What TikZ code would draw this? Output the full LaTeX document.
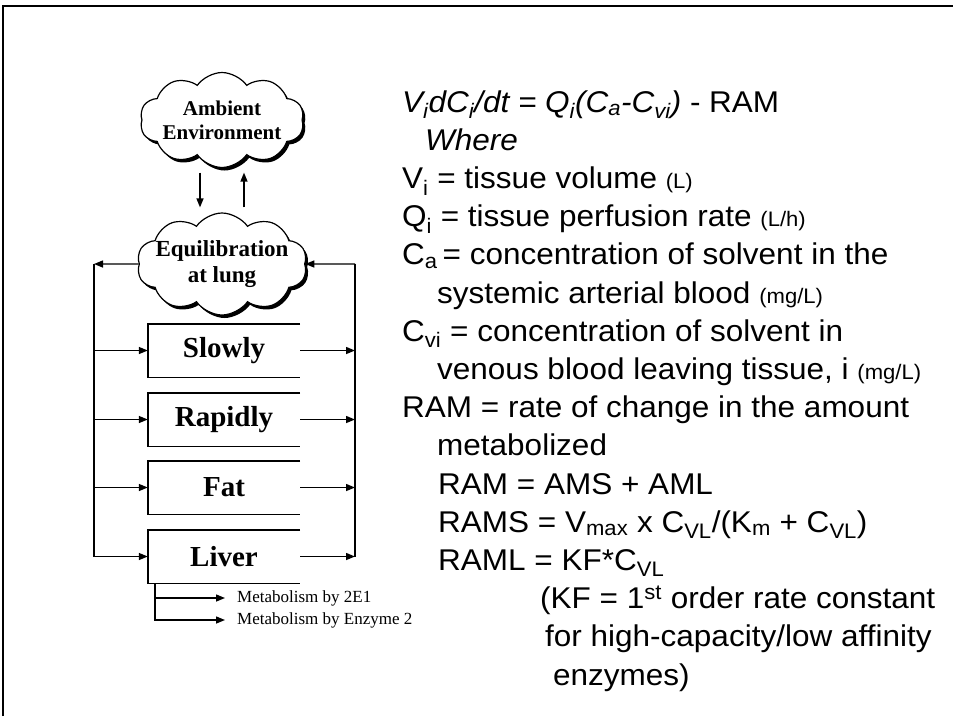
\documentclass[tikz,border=0pt]{standalone}
\usepackage{fontspec}
\setmainfont{Liberation Serif}
\newfontfamily\arialf[FakeStretch=1.05]{Liberation Sans}
\usetikzlibrary{shapes.symbols,shadows,arrows.meta}
\newcommand{\unitsz}[1]{{\fontsize{21}{23}\selectfont #1}}
\begin{document}
\begin{tikzpicture}[x=1pt,y=-1pt,
  lbl/.style={font=\bfseries\fontsize{29}{32}\selectfont},
  cloudnode/.style={cloud, cloud puffs=10, cloud puff arc=110, cloud ignores aspect, draw, line width=1.2pt, fill=white, inner sep=0pt,
    drop shadow={shadow xshift=2.5pt, shadow yshift=-3pt, fill=black, opacity=1}},
  tissue/.style={minimum width=152pt, minimum height=53pt, inner sep=0pt, lbl},
  eqtext/.style={anchor=base west, inner sep=0pt, font=\arialf\fontsize{30}{36}\selectfont},
  mettext/.style={anchor=west, inner sep=0pt, font=\fontsize{17}{19}\selectfont},
  arr/.style={-{Triangle[length=9pt,width=7pt]}, line width=1.4pt},
  ln/.style={line width=1.4pt}
]
\useasboundingbox (0,0) rectangle (953,716);
% frame
\draw[line width=2.5pt] (3,716) -- (3,6) -- (953,6);

% clouds
\node[cloudnode, minimum width=164pt, minimum height=95pt,
  label={[font=\bfseries\fontsize{21}{24}\selectfont, align=center]center:Ambient\\Environment}] (amb) at (222,120) {};
\node[cloudnode, minimum width=170pt, minimum height=102pt,
  label={[font=\bfseries\fontsize{23}{26}\selectfont, align=center]center:Equilibration\\at lung}] (equ) at (222,264) {};

\draw[arr, shorten <=4.5pt, shorten >=5pt] ([xshift=-22pt]amb.south) -- ([xshift=-22pt]equ.north);
\draw[arr, shorten <=5pt, shorten >=4.5pt] ([xshift=22pt]equ.north) -- ([xshift=22pt]amb.south);

% tissues
\node[tissue] (slow) at (224,350.5) {Slowly};
\node[tissue] (rap) at (224,419.5) {Rapidly};
\node[tissue] (fat) at (224,487.5) {Fat};
\node[tissue] (liv) at (224,556.5) {Liver};
\foreach \b in {slow,rap,fat,liv}{
  \draw[ln] (\b.north east) -- (\b.north west) -- (\b.south west) -- (\b.south east);
}

\coordinate (lc) at (94,264);
\coordinate (rc) at (355,264);
\draw[arr] (equ.west) -- (lc);
\draw[ln] (lc) -- (lc |- liv.west);
\draw[ln] (rc |- liv.east) -- (rc);
\draw[arr] (rc) -- (equ.east);
\foreach \b in {slow,rap,fat,liv}{
  \draw[arr] (lc |- \b.west) -- (\b.west);
  \draw[arr] (\b.east) -- (rc |- \b.east);
}

% metabolism
\node[mettext] (m1) at (237,598) {Metabolism by 2E1};
\node[mettext] (m2) at (237,620) {Metabolism by Enzyme 2};
\coordinate (mtop) at ([xshift=7pt]liv.south west);
\draw[arr] (mtop) |- ([xshift=-12pt]m2.west);
\draw[arr] (mtop |- m1.west) -- ([xshift=-12pt]m1.west);

% equations
\node[eqtext] (t1) at (402,112) {\textit{V\textsubscript{i}dC\textsubscript{i}/dt = Q\textsubscript{i}(C\textsubscript{a}-C\textsubscript{vi})} - RAM};
\node[eqtext] (t2) at (425,150.2) {\textit{Where}};
\node[eqtext] (t3) at (402,188.4) {V\textsubscript{i} = tissue volume \unitsz{(L)}};
\node[eqtext] (t4) at (402,226.6) {Q\textsubscript{i} = tissue perfusion rate \unitsz{(L/h)}};
\node[eqtext] (t5) at (402,264.8) {C\textsubscript{a}\,= concentration of solvent in the};
\node[eqtext] (t6) at (437,303) {systemic arterial blood \unitsz{(mg/L)}};
\node[eqtext] (t7) at (402,341.2) {C\textsubscript{vi} = concentration of solvent in};
\node[eqtext] (t8) at (437,379.4) {venous blood leaving tissue, i \unitsz{(mg/L)}};
\node[eqtext] (t9) at (402,417.6) {RAM = rate of change in the amount};
\node[eqtext] (t10) at (437,455.8) {metabolized};
\node[eqtext] (t11) at (438,494) {RAM = AMS + AML};
\node[eqtext] (t12) at (438,532.2) {RAMS = V\textsubscript{max} x C\textsubscript{VL}/(K\textsubscript{m} + C\textsubscript{VL})};
\node[eqtext] (t13) at (438,570.4) {RAML = KF*C\textsubscript{VL}};
\node[eqtext] (t14) at (540,608.6) {(KF = 1\textsuperscript{st} order rate constant};
\node[eqtext] (t15) at (545,646.8) {for high-capacity/low affinity};
\node[eqtext] (t16) at (553,685) {enzymes)};
\end{tikzpicture}
\end{document}
